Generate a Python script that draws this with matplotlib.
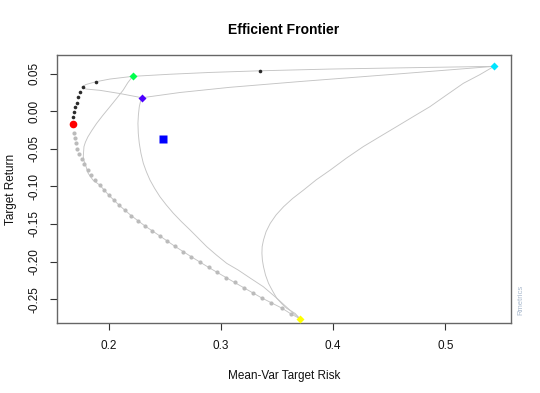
import numpy as np
import matplotlib
matplotlib.use('Agg')
import matplotlib.pyplot as plt

plt.rcParams['font.family'] = ['Liberation Sans', 'DejaVu Sans']

# efficient part of the frontier (black dots)
eff_risk = [0.1682, 0.1691, 0.1702, 0.1715, 0.1729, 0.1742, 0.1768, 0.1887, 0.3349]
eff_ret = [-0.0076, -0.0009, 0.0053, 0.0115, 0.0190, 0.0253, 0.0328, 0.0394, 0.0540]

# inefficient part of the frontier (grey dots)
ineff_risk = [0.1688, 0.1697, 0.1706, 0.1717, 0.1735, 0.1762, 0.1783, 0.1813, 0.1845,
              0.1881, 0.1920, 0.1958, 0.2003, 0.2047, 0.2095, 0.2148, 0.2202, 0.2261,
              0.2324, 0.2389, 0.2457, 0.2523, 0.2591, 0.2665, 0.2736, 0.2814, 0.2891,
              0.2968, 0.3048, 0.3126, 0.3209, 0.3286, 0.3366, 0.3449, 0.3542, 0.3622]
ineff_ret = [-0.0285, -0.0356, -0.0427, -0.0498, -0.0569, -0.0635, -0.0702, -0.0777, -0.0848,
             -0.0915, -0.0981, -0.1044, -0.1119, -0.1185, -0.1252, -0.1319, -0.1390, -0.1461,
             -0.1527, -0.1594, -0.1660, -0.1731, -0.1798, -0.1869, -0.1936, -0.2007, -0.2078,
             -0.2144, -0.2215, -0.2273, -0.2353, -0.2419, -0.2486, -0.2553, -0.2619, -0.2695]

# single assets (topo colours)
asset_risk = [0.2297, 0.5434, 0.2214, 0.3705]
asset_ret = [0.0181, 0.0599, 0.0466, -0.2762]
asset_col = ['#4C00FF', '#00E5FF', '#00FF4D', '#FFFF00']

minvar = (0.1680, -0.0169)
eqw = (0.2484, -0.0373)

# two-asset lines
gc_risk = [0.2214, 0.2547, 0.2904, 0.3349, 0.3973, 0.4686, 0.5434]
gc_ret = [0.0466, 0.0494, 0.0518, 0.0540, 0.0563, 0.0581, 0.0599]

pc_risk = [0.2297, 0.2636, 0.3081, 0.3705, 0.4597, 0.5434]
pc_ret = [0.0181, 0.0251, 0.0320, 0.0397, 0.0500, 0.0599]

gp_risk = [0.2214, 0.2011, 0.1886, 0.1797, 0.1762, 0.1797, 0.1922, 0.2100, 0.2297]
gp_ret = [0.0466, 0.0430, 0.0394, 0.0357, 0.0324, 0.0297, 0.0280, 0.0237, 0.0181]

gy_risk = [0.2214, 0.2170, 0.2130, 0.2070, 0.2011, 0.1950, 0.1893, 0.1850, 0.1815,
           0.1793, 0.1780, 0.1774, 0.1778, 0.1789, 0.1818, 0.1860, 0.1920, 0.2003,
           0.2095, 0.2202, 0.2324, 0.2457, 0.2591, 0.2736, 0.2891, 0.3048, 0.3209,
           0.3366, 0.3542, 0.3622, 0.3705]
gy_ret = [0.0466, 0.0380, 0.0284, 0.0170, 0.0061, -0.0050, -0.0160, -0.0255, -0.0340,
          -0.0410, -0.0470, -0.0600, -0.0650, -0.0692, -0.0826, -0.0915, -0.0981, -0.1119,
          -0.1252, -0.1390, -0.1527, -0.1660, -0.1798, -0.1936, -0.2078, -0.2215, -0.2353,
          -0.2486, -0.2619, -0.2695, -0.2762]

py_risk = [0.2297, 0.2282, 0.2273, 0.2265, 0.2261, 0.2264, 0.2273, 0.2288, 0.2309,
           0.2336, 0.2368, 0.2410, 0.2457, 0.2514, 0.2576, 0.2648, 0.2726, 0.2800,
           0.2874, 0.2960, 0.3052, 0.3155, 0.3265, 0.3378, 0.3500, 0.3631, 0.3705]
py_ret = [0.0181, 0.0120, 0.0061, -0.0050, -0.0160, -0.0293, -0.0426, -0.0560, -0.0692,
          -0.0803, -0.0914, -0.1026, -0.1137, -0.1247, -0.1356, -0.1468, -0.1580, -0.1691,
          -0.1802, -0.1913, -0.2024, -0.2114, -0.2224, -0.2335, -0.2490, -0.2669, -0.2762]

cy_risk = [0.5434, 0.5310, 0.5161, 0.5010, 0.4863, 0.4715, 0.4566, 0.4418, 0.4269,
           0.4120, 0.3975, 0.3850, 0.3737, 0.3640, 0.3559, 0.3492, 0.3440, 0.3403,
           0.3380, 0.3368, 0.3366, 0.3370, 0.3380, 0.3398, 0.3425, 0.3460, 0.3499,
           0.3545, 0.3588, 0.3630, 0.3662, 0.3705]
cy_ret = [0.0599, 0.0490, 0.0373, 0.0216, 0.0062, -0.0070, -0.0204, -0.0336, -0.0470,
          -0.0622, -0.0782, -0.0912, -0.1048, -0.1160, -0.1270, -0.1380, -0.1492, -0.1603,
          -0.1714, -0.1802, -0.1891, -0.1980, -0.2069, -0.2180, -0.2291, -0.2390, -0.2491,
          -0.2565, -0.2624, -0.2662, -0.2691, -0.2762]

fig = plt.figure(figsize=(5.4, 3.93), dpi=100)
ax = fig.add_axes([0.105, 0.1773, 0.8407, 0.6827])

line_col = '#C4C4C4'
for xs, ys in [(gc_risk, gc_ret), (pc_risk, pc_ret), (gp_risk, gp_ret),
               (gy_risk, gy_ret), (py_risk, py_ret), (cy_risk, cy_ret)]:
    ax.plot(xs, ys, color=line_col, lw=0.65, zorder=1)

ax.plot(ineff_risk, ineff_ret, 'o', color='#BBBBBB', ms=3, mec='none', zorder=2)
ax.plot(eff_risk, eff_ret, 'o', color='#2A2A2A', ms=2.6, mec='none', zorder=3)

ax.plot(minvar[0], minvar[1], 'o', color='red', ms=5.5, mec='none', zorder=4)
ax.plot(eqw[0], eqw[1], 's', color='blue', ms=5.5, mec='none', zorder=4)
for r, m, c in zip(asset_risk, asset_ret, asset_col):
    ax.plot(r, m, 'D', color=c, ms=4.2, mec='none', zorder=4)

ax.set_xlim(0.1537, 0.5583)
ax.set_ylim(-0.2823, 0.0750)
ax.set_xticks([0.2, 0.3, 0.4, 0.5])
ax.set_xticklabels(['0.2', '0.3', '0.4', '0.5'])
yt = [-0.25, -0.20, -0.15, -0.10, -0.05, 0.00, 0.05]
ax.set_yticks(yt)
ax.set_yticklabels(['%.2f' % v for v in yt], rotation=90, va='center')

for s in ax.spines.values():
    s.set_color('#666666')
    s.set_linewidth(1.0)
ax.tick_params(direction='out', length=5, width=0.8, color='#333333',
               labelsize=8.5, labelcolor='#111111', pad=7)

ax.set_xlabel('Mean-Var Target Risk', fontsize=8.5, labelpad=13, color='#111111')
ax.set_ylabel('Target Return', fontsize=8.5, labelpad=8, color='#111111')
ax.set_title('Efficient Frontier', fontsize=10, fontweight='bold', pad=15)

fig.text(0.9645, 0.1985, 'Rmetrics', rotation=90, fontsize=5.5, color='#A8B8CC',
         ha='center', va='bottom')

fig.savefig('out.png', dpi=100)
